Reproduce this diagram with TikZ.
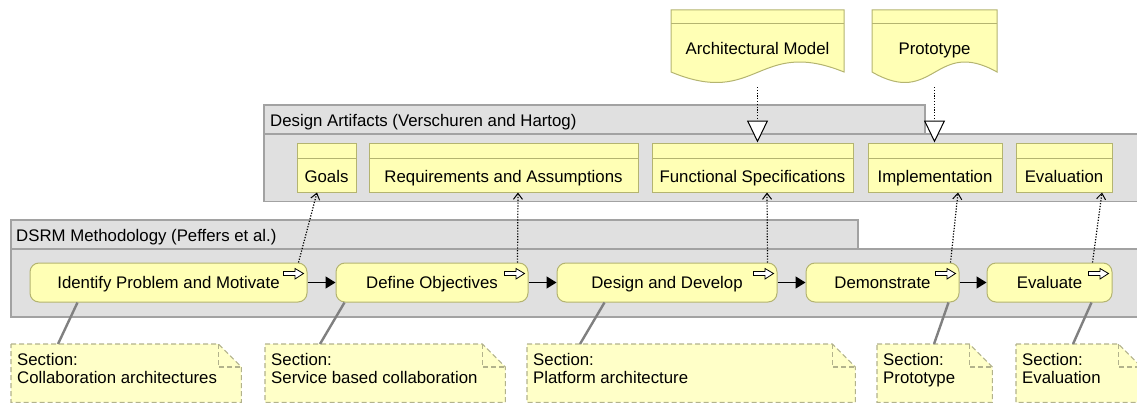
\documentclass[tikz,border=0pt]{standalone}
\usepackage{fontspec}
\setmainfont{Liberation Sans}
\usetikzlibrary{arrows.meta,calc}
\definecolor{procfill}{RGB}{255,255,181}
\definecolor{procdraw}{RGB}{180,180,112}
\definecolor{grpfill}{RGB}{224,224,224}
\definecolor{grpdraw}{RGB}{162,162,162}
\definecolor{notefill}{RGB}{255,255,200}
\definecolor{notedraw}{RGB}{178,178,140}
\definecolor{linkgray}{RGB}{128,128,128}
\tikzset{
  every node/.style={font=\fontsize{16.8}{18.5}\selectfont, inner sep=0pt},
  grp/.style={fill=grpfill, draw=grpdraw, line width=1.2pt},
  grpline/.style={draw=grpdraw, line width=1.2pt},
  proc/.style={rectangle, rounded corners=9pt, fill=procfill, draw=procdraw, line width=1pt, text height=12pt, text depth=0pt},
  art/.style={rectangle, fill=procfill, draw=procdraw, line width=1pt},
  artline/.style={draw=procdraw, line width=1pt},
  arttext/.style={text height=12pt, text depth=0pt},
  flow/.style={-{Triangle[length=10pt,width=12pt]}, line width=1.4pt, black},
  access/.style={dash pattern=on 1.2pt off 1.6pt, line width=1.2pt, -{Straight Barb[length=6pt,width=9pt,line width=1pt]}},
  realz/.style={dash pattern=on 1.2pt off 1.6pt, line width=1.2pt, -{Triangle[length=22pt,width=21pt,fill=white,line width=1pt]}},
  notebox/.style={rectangle, draw=none, anchor=north west},
  notepath/.style={fill=notefill, draw=notedraw, dash pattern=on 5pt off 3pt, line width=1.1pt},
  notetext/.style={anchor=north west, align=left},
  notelink/.style={draw=linkgray, line width=2.4pt},
  icon/.style={fill=white, draw=black, line width=0.8pt, line join=miter},
}
\newcommand\notefold[1]{%
  \draw[notepath] (#1.north west) -- ([xshift=-23pt]#1.north east) -- ([yshift=-23pt]#1.north east) -- (#1.south east) -- (#1.south west) -- cycle;
  \draw[notepath, fill=none] ([xshift=-23pt]#1.north east) -- ([xshift=-23pt,yshift=-23pt]#1.north east) -- ([yshift=-23pt]#1.north east);}
\newcommand\procicon[1]{%
  \draw[icon, shift={(#1.north east)}] (-24,9) -- (-12.5,9) -- (-12.5,6) -- (-4,11) -- (-12.5,16.5) -- (-12.5,13) -- (-24,13) -- cycle;}
\newcommand\artheader[1]{%
  \draw[artline] ([yshift=-16pt]#1.north west) -- ([yshift=-16pt]#1.north east);}
\begin{document}
\begin{tikzpicture}[x=1pt,y=-1pt]
\useasboundingbox (0,0) rectangle (1137,404);
\clip (0,0) rectangle (1137,404);

% ---- groups
\draw[grp] (264,201.5) -- (264,105) -- (925,105) -- (925,134) -- (1145,134) -- (1145,201.5) -- cycle;
\draw[grpline] (264,134) -- (925,134);
\node[anchor=base west] (dalab) at (270,126.5) {Design Artifacts (Verschuren and Hartog)};

\draw[grp] (11,317) -- (11,220) -- (858,220) -- (858,249) -- (1145,249) -- (1145,317) -- cycle;
\draw[grpline] (11,249) -- (858,249);
\node[anchor=base west] (dslab) at (16,241.5) {DSRM Methodology (Peffers et al.)};

% ---- representations
\draw[art] (844,72) -- (844,10) -- (671,10) -- (671,72) .. controls (757.5,108) and (757.5,37) .. (844,72) -- cycle;
\draw[artline] (671,24) -- (844,24);
\node[arttext] (am) at (757.5,48.5) {Architectural Model};
\coordinate (amb) at (757.5,87);

\draw[art] (997,72) -- (997,10) -- (872,10) -- (872,72) .. controls (934.5,108) and (934.5,37) .. (997,72) -- cycle;
\draw[artline] (872,24) -- (997,24);
\node[arttext] (pt) at (934.5,48.5) {Prototype};
\coordinate (ptb) at (934.5,87);

% ---- design artifacts
\node[art, minimum width=59pt, minimum height=49pt] (goal) at (326.5,167.5) {};
\node[art, minimum width=269pt, minimum height=49pt] (req) at (503.5,167.5) {};
\node[art, minimum width=201pt, minimum height=49pt] (fs) at (752.5,167.5) {};
\node[art, minimum width=134pt, minimum height=49pt] (impl) at (935,167.5) {};
\node[art, minimum width=96pt, minimum height=49pt] (evala) at (1064,167.5) {};
\artheader{goal}\artheader{req}\artheader{fs}\artheader{impl}\artheader{evala}
\node[arttext] (goalt) at ($(goal.south)+(0,-16.5)$) {Goals};
\node[arttext] (reqt) at ($(req.south)+(0,-16.5)$) {Requirements and Assumptions};
\node[arttext] (fst) at ($(fs.south)+(0,-16.5)$) {Functional Specifications};
\node[arttext] (implt) at ($(impl.south)+(0,-16.5)$) {Implementation};
\node[arttext] (evalat) at ($(evala.south)+(0,-16.5)$) {Evaluation};

% ---- notes
\node[notebox, minimum width=230pt, minimum height=58pt] (n1) at (11,344) {};
\node[notebox, minimum width=240pt, minimum height=58pt] (n2) at (265,344) {};
\node[notebox, minimum width=328pt, minimum height=58pt] (n3) at (527,344) {};
\node[notebox, minimum width=115pt, minimum height=58pt] (n4) at (877,344) {};
\node[notebox, minimum width=125pt, minimum height=58pt] (n5) at (1016,344) {};
\notefold{n1}\notefold{n2}\notefold{n3}\notefold{n4}\notefold{n5}
\node[notetext] (n1t) at ([xshift=6pt,yshift=-9pt]n1.north west) {Section:\\Collaboration architectures};
\node[notetext] (n2t) at ([xshift=6pt,yshift=-9pt]n2.north west) {Section:\\Service based collaboration};
\node[notetext] (n3t) at ([xshift=6pt,yshift=-9pt]n3.north west) {Section:\\Platform architecture};
\node[notetext] (n4t) at ([xshift=6pt,yshift=-9pt]n4.north west) {Section:\\Prototype};
\node[notetext] (n5t) at ([xshift=6pt,yshift=-9pt]n5.north west) {Section:\\Evaluation};

% ---- processes
\node[proc, minimum width=277pt, minimum height=39pt] (p1) at (168.5,282.5) {Identify Problem and Motivate};
\node[proc, minimum width=192pt, minimum height=39pt] (p2) at (432,282.5) {Define Objectives};
\node[proc, minimum width=220pt, minimum height=39pt] (p3) at (667,282.5) {Design and Develop};
\node[proc, minimum width=153pt, minimum height=39pt] (p4) at (882.5,282.5) {Demonstrate};
\node[proc, minimum width=125pt, minimum height=39pt] (p5) at (1049.5,282.5) {Evaluate};
\procicon{p1}\procicon{p2}\procicon{p3}\procicon{p4}\procicon{p5}

% ---- note links
\draw[notelink] ([xshift=47pt]n1.north west) -- ([xshift=48pt]p1.south west);
\draw[notelink] ([xshift=55pt]n2.north west) -- ([xshift=9pt]p2.south west);
\draw[notelink] ([xshift=53pt]n3.north west) -- ([xshift=48pt]p3.south west);
\draw[notelink] ([xshift=57pt]n4.north west) -- ([xshift=143pt]p4.south west);
\draw[notelink] ([xshift=57pt]n5.north west) -- ([xshift=105pt]p5.south west);

\draw[flow] (p1) -- (p2);
\draw[flow] (p2) -- (p3);
\draw[flow] (p3) -- (p4);
\draw[flow] (p4) -- (p5);

% ---- access relations
\draw[access] ([xshift=-9pt]p1.north east) -- ([xshift=-9.5pt]goal.south);
\draw[access] ([xshift=-11pt]p2.north east) -- ([xshift=14.5pt]req.south);
\draw[access] ([xshift=-10pt]p3.north east) -- ([xshift=14.5pt]fs.south);
\draw[access] ([xshift=-9pt]p4.north east) -- ([xshift=23pt]impl.south);
\draw[access] ([xshift=-20pt]p5.north east) -- ([xshift=38pt]evala.south);

% ---- realizations
\draw[realz] (amb) -- (amb |- fs.north);
\draw[realz] (ptb) -- (ptb |- impl.north);
\end{tikzpicture}
\end{document}
